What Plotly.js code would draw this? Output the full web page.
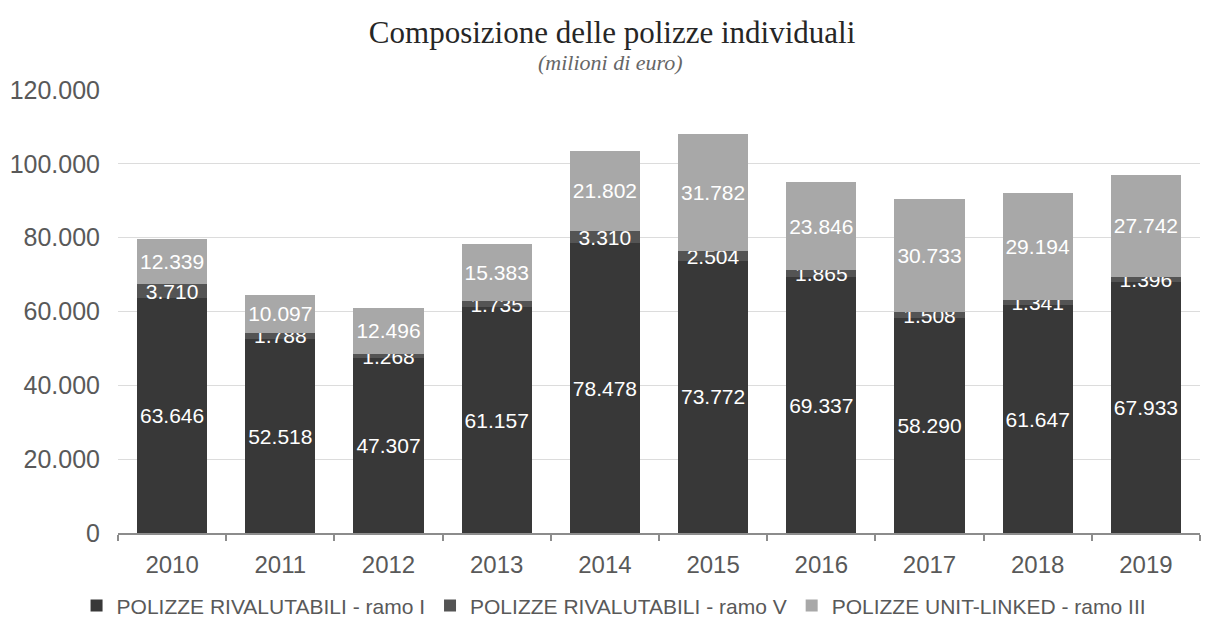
<!DOCTYPE html>
<html>
<head>
<meta charset="utf-8">
<script src="https://cdn.plot.ly/plotly-3.0.1.min.js"></script>
<style>html,body{margin:0;padding:0;background:#fff;}#chart{width:1212px;height:620px;}</style>
</head>
<body>
<div id="chart"></div>
<script>
const years = ['2010','2011','2012','2013','2014','2015','2016','2017','2018','2019'];
const ramoI = [63646,52518,47307,61157,78478,73772,69337,58290,61647,67933];
const ramoV = [3710,1788,1268,1735,3310,2504,1865,1508,1341,1396];
const unitLinked = [12339,10097,12496,15383,21802,31782,23846,30733,29194,27742];
const seriesNames = ['POLIZZE RIVALUTABILI - ramo I','POLIZZE RIVALUTABILI - ramo V','POLIZZE UNIT-LINKED - ramo III'];
const yTicks = [0,20000,40000,60000,80000,100000,120000];

const colors = ['#383838','#545454','#a8a8a8'];
const values = [ramoI, ramoV, unitLinked];

const traces = values.map((v,i) => ({
  type:'bar', x:years, y:v, name:seriesNames[i],
  marker:{color:colors[i]},
  text:v, texttemplate:'%{y:,}', textposition:'inside', insidetextanchor:'middle',
  textangle:0, constraintext:'none', cliponaxis:false,
  textfont:{family:'Liberation Sans, Arial, sans-serif', size:21, color:'#ffffff'},
  hoverinfo:'x+y+name'
}));

const layout = {
  width:1212, height:620,
  barmode:'stack', bargap:0.35,
  separators:',.',
  paper_bgcolor:'#ffffff', plot_bgcolor:'#ffffff',
  margin:{l:118, r:12, t:90, b:87, autoexpand:false},
  font:{family:'Liberation Sans, Arial, sans-serif', color:'#595959'},
  title:{text:'Composizione delle polizze individuali', x:0.505, xanchor:'center', y:0.948, yanchor:'middle',
    font:{family:'Liberation Serif, Times New Roman, serif', size:31, color:'#262626'}},
  annotations:[{text:'<i>(milioni di euro)</i>', xref:'paper', yref:'paper', x:0.455, xanchor:'center',
    y:1.0, yanchor:'middle', yshift:28, showarrow:false,
    font:{family:'Liberation Serif, Times New Roman, serif', size:22, color:'#666666'}}],
  xaxis:{type:'category', tickson:'boundaries', ticks:'outside', ticklen:6, tickwidth:2, tickcolor:'#8c8c8c',
    showline:true, linecolor:'#8c8c8c', linewidth:2, showgrid:false,
    tickfont:{size:24, color:'#595959'}, ticklabelstandoff:9},
  yaxis:{range:[0,120000], tickvals:yTicks, tickformat:',d', showgrid:true, gridcolor:'#dcdcdc', gridwidth:1,
    zeroline:false, showline:false, ticks:'', tickfont:{size:25, color:'#595959'}, ticklabelstandoff:17},
  legend:{orientation:'h', x:0.458, xanchor:'center', y:-0.118, yanchor:'top',
    font:{size:21, color:'#595959'}, itemwidth:30, traceorder:'normal'},
  showlegend:true
};

Plotly.newPlot('chart', traces, layout, {displayModeBar:false, staticPlot:true});
</script>
</body>
</html>
